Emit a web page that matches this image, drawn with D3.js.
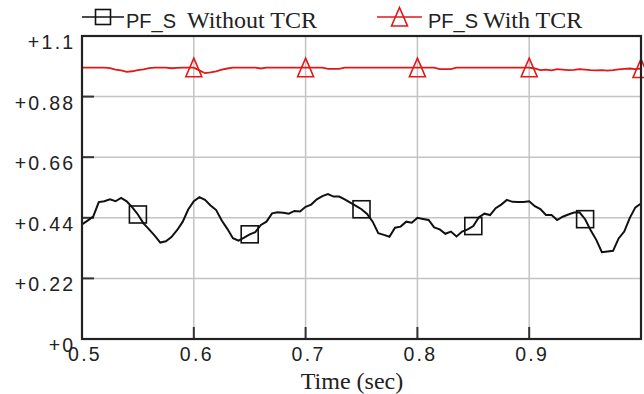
<!DOCTYPE html>
<html>
<head>
<meta charset="utf-8">
<script src="https://cdn.jsdelivr.net/npm/d3@7/dist/d3.min.js"></script>
<style>
  html, body { margin: 0; padding: 0; background: #fff; }
  svg { display: block; }
  .tick-label { font-family: "Liberation Sans", Arial, sans-serif; font-size: 19.5px; letter-spacing: 2.3px; fill: #222; }
  .serif { font-family: "Liberation Serif", "Times New Roman", serif; fill: #222; }
  .sans { font-family: "Liberation Sans", Arial, sans-serif; fill: #222; }
</style>
</head>
<body>
<svg id="chart" width="644" height="394"></svg>
<script>
// Sample times (s), one every 5 ms
const times = d3.range(101).map(i => +(0.5 + i * 0.005).toFixed(3));

// Power factor at the source, no TCR connected
const pfWithout = [
  0.416, 0.430, 0.444, 0.497, 0.500, 0.507, 0.500, 0.512, 0.500, 0.478,
  0.452, 0.420, 0.398, 0.375, 0.350, 0.355, 0.370, 0.395, 0.425, 0.470,
  0.500, 0.515, 0.505, 0.485, 0.468, 0.430, 0.400, 0.366, 0.357, 0.368,
  0.380, 0.388, 0.414, 0.426, 0.456, 0.460, 0.458, 0.455, 0.465, 0.463,
  0.480, 0.488, 0.507, 0.519, 0.526, 0.517, 0.517, 0.507, 0.495, 0.483,
  0.471, 0.454, 0.426, 0.384, 0.378, 0.371, 0.404, 0.408, 0.426, 0.422,
  0.440, 0.436, 0.432, 0.405, 0.398, 0.382, 0.390, 0.372, 0.390, 0.398,
  0.410, 0.442, 0.455, 0.450, 0.475, 0.488, 0.505, 0.498, 0.497, 0.497,
  0.500, 0.482, 0.472, 0.450, 0.450, 0.432, 0.444, 0.452, 0.459, 0.460,
  0.435, 0.395, 0.360, 0.315, 0.318, 0.320, 0.365, 0.390, 0.440, 0.478,
  0.492
];

// Power factor at the source, TCR connected
const pfWith = [
  0.985, 0.985, 0.985, 0.985, 0.985, 0.983, 0.978, 0.975, 0.970, 0.972,
  0.976, 0.979, 0.983, 0.985, 0.985, 0.985, 0.983, 0.984, 0.985, 0.985,
  0.985, 0.975, 0.965, 0.968, 0.972, 0.978, 0.982, 0.985, 0.985, 0.985,
  0.985, 0.985, 0.982, 0.985, 0.985, 0.985, 0.985, 0.985, 0.985, 0.985,
  0.985, 0.985, 0.985, 0.985, 0.981, 0.981, 0.981, 0.985, 0.985, 0.985,
  0.985, 0.985, 0.985, 0.985, 0.985, 0.985, 0.985, 0.985, 0.985, 0.985,
  0.985, 0.985, 0.985, 0.985, 0.980, 0.980, 0.980, 0.985, 0.985, 0.985,
  0.985, 0.985, 0.985, 0.985, 0.985, 0.985, 0.985, 0.985, 0.985, 0.985,
  0.985, 0.982, 0.976, 0.978, 0.975, 0.980, 0.978, 0.976, 0.977, 0.980,
  0.978, 0.976, 0.975, 0.976, 0.974, 0.976, 0.979, 0.981, 0.982, 0.980,
  0.982
];

const xTicks = [0.5, 0.6, 0.7, 0.8, 0.9];
const xTickLabels = ["0.5", "0.6", "0.7", "0.8", "0.9"];
const yTicks = [0, 0.22, 0.44, 0.66, 0.88, 1.1];
const yTickLabels = ["+0", "+0.22", "+0.44", "+0.66", "+0.88", "+1.1"];

// Marker times for each trace
const squareTimes = [0.55, 0.65, 0.75, 0.85, 0.95];
const triangleTimes = [0.6, 0.7, 0.8, 0.9, 1.0];

const seriesNames = ["PF_S", "PF_S"];
const seriesSuffix = ["Without TCR", "With TCR"];

const svg = d3.select("#chart");
const plot = { left: 82, right: 641, top: 36, bottom: 339 };

const x = d3.scaleLinear().domain([0.5, 1.0]).range([plot.left, plot.right]);
const y = d3.scaleLinear().domain([0, 1.1]).range([plot.bottom, plot.top]);

const valueAt = (arr, t) => {
  const i = Math.round((t - 0.5) / 0.005);
  return arr[Math.max(0, Math.min(arr.length - 1, i))];
};

// grid
const grid = svg.append("g");
grid.selectAll("line.v").data(xTicks.slice(1)).join("line")
  .attr("x1", d => x(d)).attr("x2", d => x(d))
  .attr("y1", plot.top).attr("y2", plot.bottom)
  .attr("stroke", "#c4c4c4").attr("stroke-width", 1.5);
grid.selectAll("line.h").data(yTicks.slice(1, -1)).join("line")
  .attr("x1", plot.left).attr("x2", plot.right)
  .attr("y1", d => y(d)).attr("y2", d => y(d))
  .attr("stroke", "#c4c4c4").attr("stroke-width", 1.5);

// inner ticks
svg.append("g").selectAll("line").data(xTicks.slice(1)).join("line")
  .attr("x1", d => x(d)).attr("x2", d => x(d))
  .attr("y1", plot.bottom).attr("y2", plot.bottom - 12)
  .attr("stroke", "#333").attr("stroke-width", 2);
svg.append("g").selectAll("line").data(yTicks.slice(1, -1)).join("line")
  .attr("x1", plot.left).attr("x2", plot.left + 12)
  .attr("y1", d => y(d)).attr("y2", d => y(d))
  .attr("stroke", "#333").attr("stroke-width", 2);

// traces
const line = d3.line().x((d, i) => x(times[i])).y(d => y(d));
svg.append("path").datum(pfWith)
  .attr("d", line).attr("fill", "none")
  .attr("stroke", "#e01818").attr("stroke-width", 1.8);
svg.append("path").datum(pfWithout)
  .attr("d", line).attr("fill", "none")
  .attr("stroke", "#111").attr("stroke-width", 2);

// markers
const sq = 17;
svg.append("g").selectAll("rect").data(squareTimes).join("rect")
  .attr("x", d => x(d) - sq / 2).attr("y", d => y(valueAt(pfWithout, d)) - sq / 2)
  .attr("width", sq).attr("height", sq)
  .attr("fill", "none").attr("stroke", "#111").attr("stroke-width", 1.6);

const tri = (cx, cy) => `M${cx},${cy - 9.5}L${cx + 8},${cy + 9}L${cx - 8},${cy + 9}Z`;
svg.append("g").selectAll("path").data(triangleTimes).join("path")
  .attr("d", d => tri(x(d), y(valueAt(pfWith, d))))
  .attr("fill", "none").attr("stroke", "#e01818").attr("stroke-width", 1.6);

// frame
svg.append("rect")
  .attr("x", plot.left).attr("y", plot.top)
  .attr("width", plot.right - plot.left).attr("height", plot.bottom - plot.top)
  .attr("fill", "none").attr("stroke", "#222").attr("stroke-width", 2.2);

// y tick labels
svg.append("g").selectAll("text").data(yTicks).join("text")
  .attr("class", "tick-label")
  .attr("x", 75.5).attr("y", d => y(d) + 13)
  .attr("text-anchor", "end")
  .text((d, i) => yTickLabels[i]);

// x tick labels
svg.append("g").selectAll("text").data(xTicks).join("text")
  .attr("class", "tick-label")
  .attr("x", d => x(d) + 3).attr("y", plot.bottom + 22)
  .attr("text-anchor", "middle")
  .text((d, i) => xTickLabels[i]);

// axis title
svg.append("text").attr("class", "serif")
  .attr("x", 352).attr("y", 389)
  .attr("text-anchor", "middle").attr("font-size", 24)
  .text("Time (sec)");

// legend
const legend = [
  { x0: 82, x1: 124, color: "#111", marker: "square", tx: 126, sx: 187 },
  { x0: 377, x1: 422, color: "#e01818", marker: "triangle", tx: 428, sx: 483 }
];
const ly = 17;
legend.forEach((l, i) => {
  const g = svg.append("g");
  g.append("line").attr("x1", l.x0).attr("x2", l.x1).attr("y1", ly).attr("y2", ly)
    .attr("stroke", l.color).attr("stroke-width", 1.6);
  const cx = (l.x0 + l.x1) / 2;
  if (l.marker === "square") {
    g.append("rect").attr("x", cx - 7.5).attr("y", ly - 7.5).attr("width", 15).attr("height", 15)
      .attr("fill", "none").attr("stroke", l.color).attr("stroke-width", 1.6);
  } else {
    g.append("path").attr("d", tri(cx, ly))
      .attr("fill", "none").attr("stroke", l.color).attr("stroke-width", 1.6);
  }
  g.append("text").attr("class", "sans").attr("x", l.tx).attr("y", ly + 11)
    .attr("font-size", 20).text(seriesNames[i]);
  g.append("text").attr("class", "serif").attr("x", l.sx).attr("y", ly + 11)
    .attr("font-size", 24).text(seriesSuffix[i]);
});
</script>
</body>
</html>
